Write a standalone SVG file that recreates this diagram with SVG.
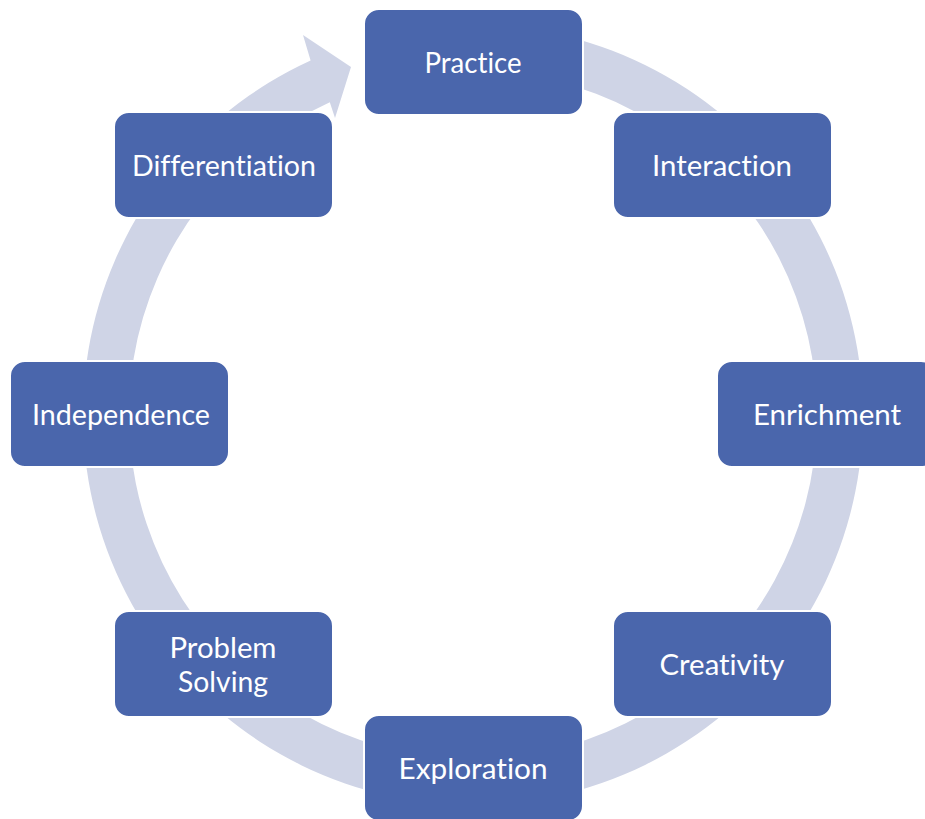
<svg xmlns="http://www.w3.org/2000/svg" width="925" height="819" viewBox="0 0 925 819">
<style>
.box{fill:#4A66AC;stroke:#FFFFFF;stroke-width:2}
.lbl{font-family:Lato,"Open Sans","Liberation Sans",sans-serif;font-size:29px;fill:#FFFFFF;text-anchor:middle;font-variant-ligatures:none;font-feature-settings:"liga" 0,"dlig" 0}
.ring{fill:#CFD4E6}
</style>
<rect width="925" height="819" fill="#FFFFFF"/>
<g id="connectors">
<path class="ring" d="M473,25 A390,390 0 1 1 310.6,60.4 L303,35 L351,67 L335,118 L329.8,102.2 A344,344 0 1 0 473,71 Z"/>
</g>
<g id="node-practice"><rect class="box" x="364" y="9" width="219" height="106" rx="15"/><text class="lbl" x="473" y="73" textLength="97" lengthAdjust="spacingAndGlyphs">Practice</text></g>
<g id="node-interaction"><rect class="box" x="613" y="112" width="219" height="106" rx="15"/><text class="lbl" x="722" y="176" textLength="140" lengthAdjust="spacingAndGlyphs">Interaction</text></g>
<g id="node-enrichment"><rect class="box" x="717" y="361" width="219" height="106" rx="15"/><text class="lbl" x="827" y="425" textLength="148" lengthAdjust="spacingAndGlyphs">Enrichment</text></g>
<g id="node-creativity"><rect class="box" x="613" y="611" width="219" height="106" rx="15"/><text class="lbl" x="722" y="675" textLength="125" lengthAdjust="spacingAndGlyphs">Creativity</text></g>
<g id="node-exploration"><rect class="box" x="364" y="715" width="219" height="106" rx="15"/><text class="lbl" x="473" y="779" textLength="149" lengthAdjust="spacingAndGlyphs">Exploration</text></g>
<g id="node-problem-solving"><rect class="box" x="114" y="611" width="219" height="106" rx="15"/><text class="lbl" x="223" y="658" textLength="107" lengthAdjust="spacingAndGlyphs">Problem</text><text class="lbl" x="223" y="692" textLength="90" lengthAdjust="spacingAndGlyphs">Solving</text></g>
<g id="node-independence"><rect class="box" x="10" y="361" width="219" height="106" rx="15"/><text class="lbl" x="121" y="425" textLength="178" lengthAdjust="spacingAndGlyphs">Independence</text></g>
<g id="node-differentiation"><rect class="box" x="114" y="112" width="219" height="106" rx="15"/><text class="lbl" x="224" y="176" textLength="184" lengthAdjust="spacingAndGlyphs">Differentiation</text></g>
</svg>
